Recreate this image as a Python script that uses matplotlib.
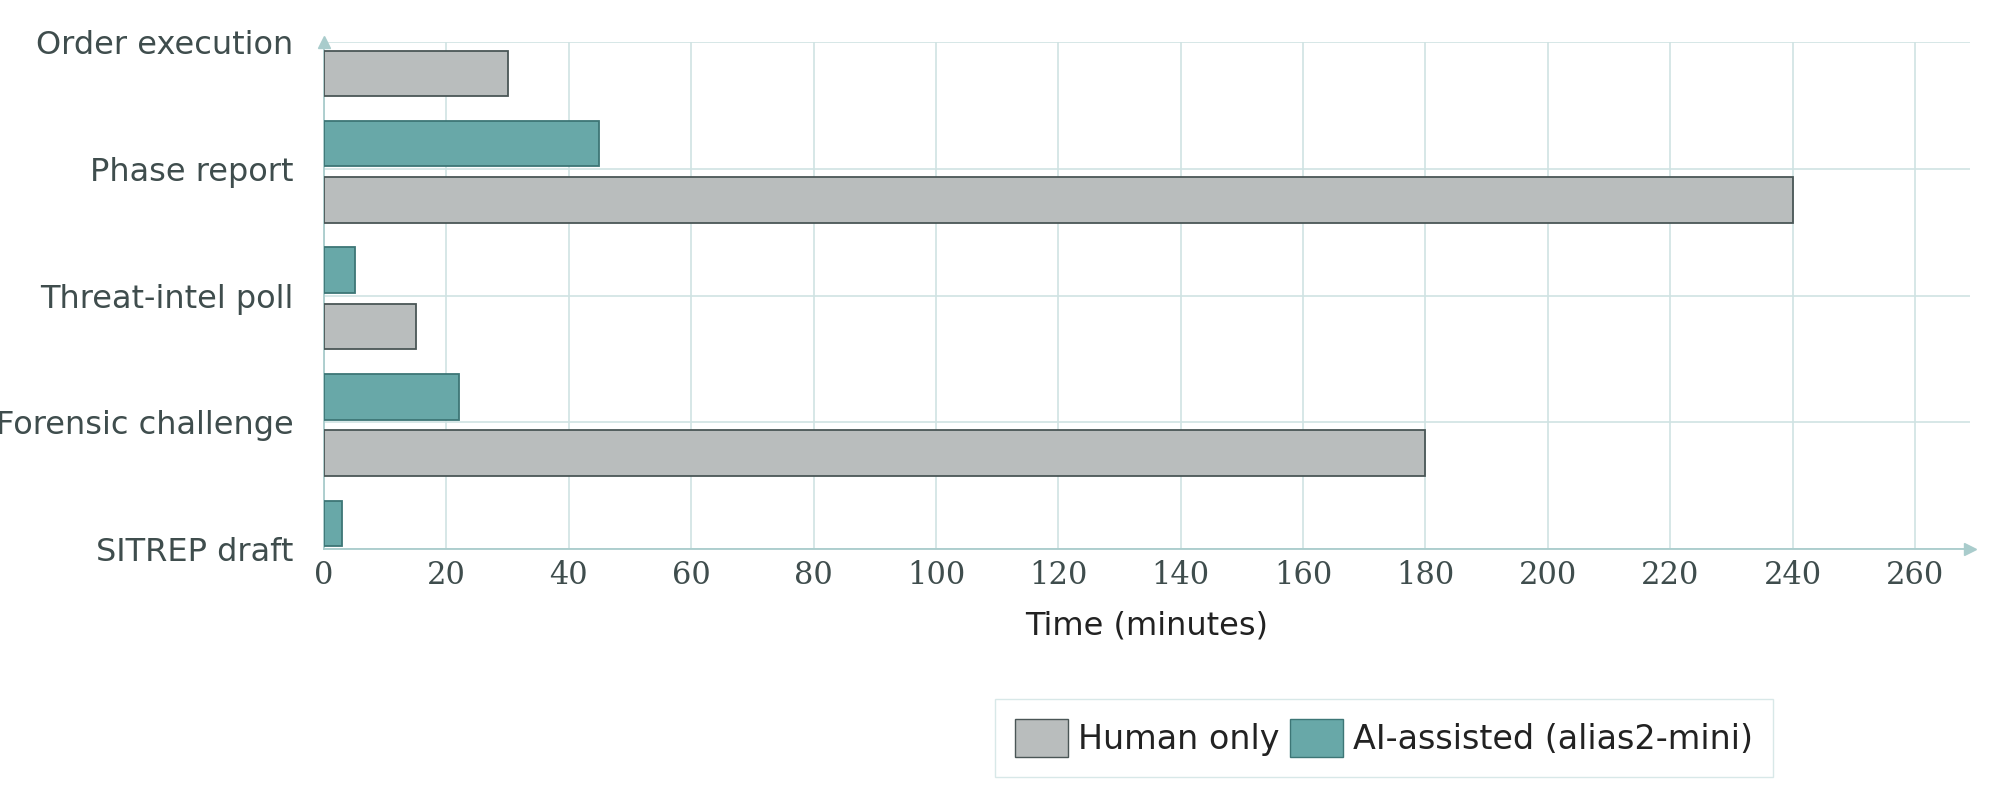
import matplotlib
matplotlib.use("Agg")
import matplotlib.pyplot as plt
import numpy as np
from matplotlib.patches import Patch

categories = ["SITREP draft", "Forensic challenge", "Threat-intel poll", "Phase report", "Order execution"]
human_only = [20, 180, 15, 240, 30]
ai_assisted = [3, 22, 5, 45, 2]
xticks = list(range(0, 261, 20))

txt = "#3f4d4d"
grid_c = "#cfe3e3"
fig = plt.figure(figsize=(20, 7.85), dpi=100)
ax = fig.add_axes([0.162, 0.301, 0.823, 0.645])
y = np.arange(len(categories))
h = 0.36
ax.barh(y + 0.20, ai_assisted, height=h, color="#68a8a8", edgecolor="#3d7676", lw=1.3, zorder=3, label="AI-assisted (alias2-mini)")
ax.barh(y - 0.245, human_only, height=h, color="#b9bdbd", edgecolor="#4a5656", lw=1.3, zorder=3, label="Human only")
ax.set_ylim(0, 4)
ax.set_xlim(0, 269)
ax.set_yticks(y)
ax.set_yticklabels(categories, fontsize=23, color=txt)
ax.set_xticks(xticks)
ax.set_xticklabels([str(t) for t in xticks], fontsize=22, color=txt, family="DejaVu Serif")
ax.tick_params(axis="y", length=0, pad=22)
ax.tick_params(axis="x", length=0, pad=8)
ax.grid(True, color=grid_c, lw=1.2, zorder=0)
for s in ["top", "right"]:
    ax.spines[s].set_visible(False)
for s in ["left", "bottom"]:
    ax.spines[s].set_color("#a9cccc")
    ax.spines[s].set_linewidth(1.3)
ax.plot(1, 0, ">", transform=ax.transAxes, color="#a9cccc", clip_on=False, ms=8)
ax.plot(0, 1, "^", transform=ax.transAxes, color="#a9cccc", clip_on=False, ms=8)
ax.set_xlabel("Time (minutes)", fontsize=23, color="#222", labelpad=14)
handles = [Patch(facecolor="#b9bdbd", edgecolor="#4a5656", label="Human only"),
           Patch(facecolor="#68a8a8", edgecolor="#3d7676", label="AI-assisted (alias2-mini)")]
leg = fig.legend(handles=handles, loc="center", bbox_to_anchor=(0.692, 0.06), ncol=2,
                 fontsize=24, frameon=True, fancybox=False, handlelength=1.6, handleheight=1.4,
                 handletextpad=0.3, columnspacing=0.3, borderpad=0.6)
leg.get_frame().set_edgecolor("#cfe3e3")
for t in leg.get_texts():
    t.set_color("#222")
fig.savefig("out.png", dpi=100)
